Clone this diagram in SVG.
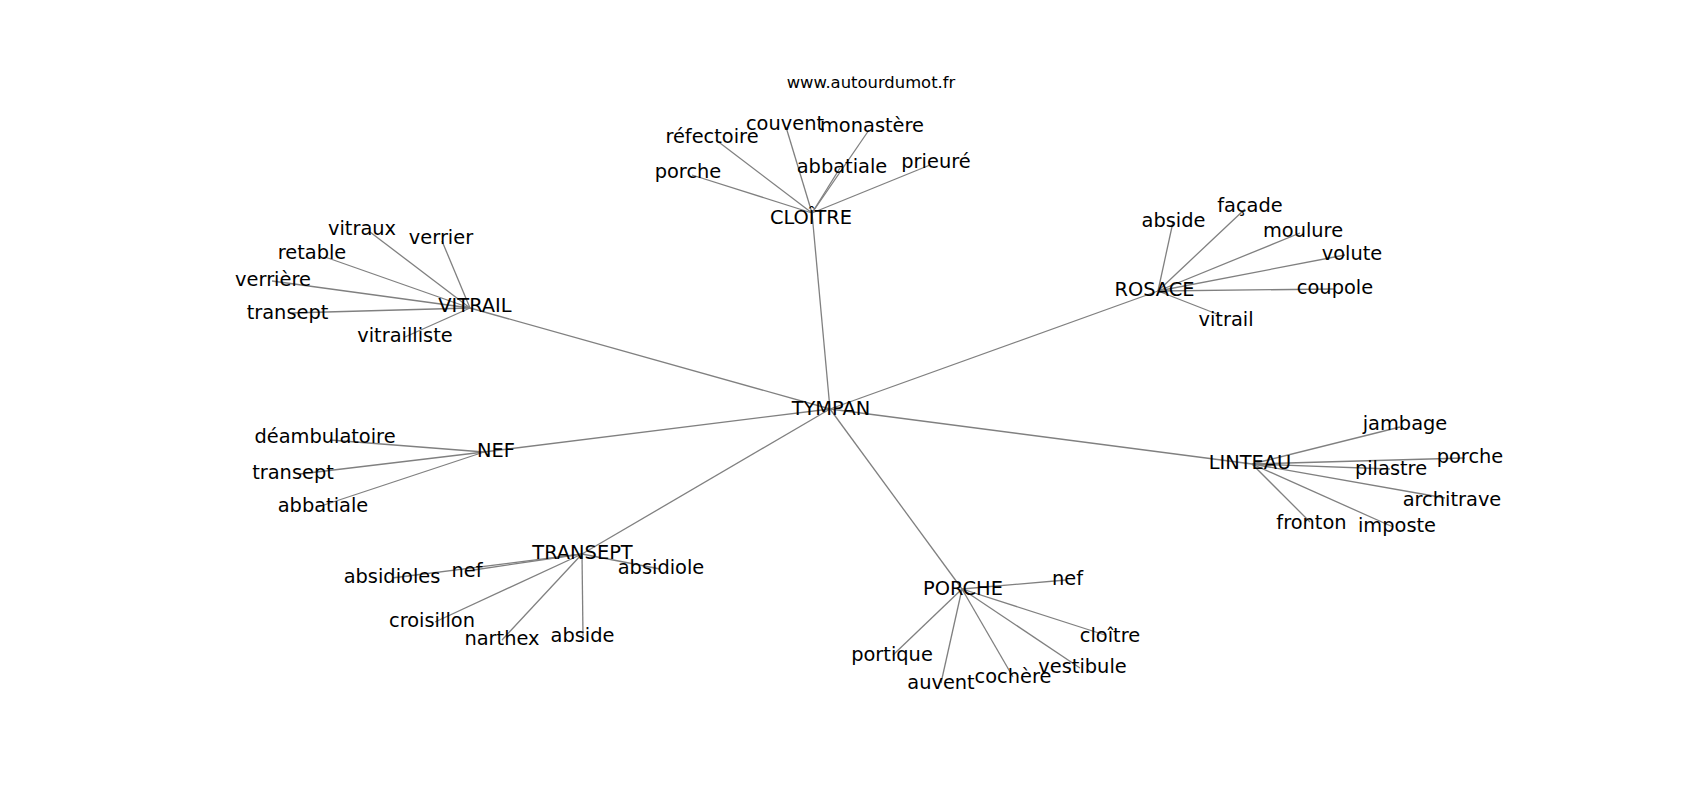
<svg xmlns="http://www.w3.org/2000/svg" width="1700" height="800" viewBox="0 0 1700 800">
<style>
.e line{stroke:#808080;stroke-width:1.3;fill:none}
text{font-family:"DejaVu Sans","Liberation Sans",sans-serif;font-size:19.4px;fill:#000;text-anchor:middle}
.t{font-size:16.4px}
</style>
<rect width="1700" height="800" fill="#fff"/>
<g id="connectors" class="e">
<line x1="830" y1="409" x2="812" y2="213"/>
<line x1="830" y1="409" x2="470" y2="308"/>
<line x1="830" y1="409" x2="1158" y2="291"/>
<line x1="830" y1="409" x2="484" y2="452"/>
<line x1="830" y1="409" x2="1252" y2="464"/>
<line x1="830" y1="409" x2="582" y2="554"/>
<line x1="830" y1="409" x2="962" y2="589"/>
<line x1="812" y1="213" x2="692" y2="175"/>
<line x1="812" y1="213" x2="716" y2="140"/>
<line x1="812" y1="213" x2="786" y2="127"/>
<line x1="812" y1="213" x2="869" y2="130"/>
<line x1="812" y1="213" x2="840" y2="168"/>
<line x1="812" y1="213" x2="930" y2="165"/>
<line x1="470" y1="308" x2="370" y2="232"/>
<line x1="470" y1="308" x2="442" y2="241"/>
<line x1="470" y1="308" x2="325" y2="257"/>
<line x1="470" y1="308" x2="272" y2="281"/>
<line x1="470" y1="308" x2="290" y2="313"/>
<line x1="470" y1="308" x2="405" y2="337"/>
<line x1="1158" y1="291" x2="1173" y2="222"/>
<line x1="1158" y1="291" x2="1245" y2="209"/>
<line x1="1158" y1="291" x2="1300" y2="233"/>
<line x1="1158" y1="291" x2="1345" y2="255"/>
<line x1="1158" y1="291" x2="1335" y2="289"/>
<line x1="1158" y1="291" x2="1222" y2="316"/>
<line x1="484" y1="452" x2="330" y2="440"/>
<line x1="484" y1="452" x2="300" y2="474"/>
<line x1="484" y1="452" x2="318" y2="507"/>
<line x1="1252" y1="464" x2="1400" y2="427"/>
<line x1="1252" y1="464" x2="1465" y2="458"/>
<line x1="1252" y1="464" x2="1390" y2="469"/>
<line x1="1252" y1="464" x2="1445" y2="498"/>
<line x1="1252" y1="464" x2="1310" y2="522"/>
<line x1="1252" y1="464" x2="1393" y2="527"/>
<line x1="582" y1="554" x2="392" y2="578"/>
<line x1="582" y1="554" x2="467" y2="571"/>
<line x1="582" y1="554" x2="660" y2="569"/>
<line x1="582" y1="554" x2="435" y2="622"/>
<line x1="582" y1="554" x2="502" y2="640"/>
<line x1="582" y1="554" x2="583" y2="636"/>
<line x1="962" y1="589" x2="1066" y2="580"/>
<line x1="962" y1="589" x2="1105" y2="635"/>
<line x1="962" y1="589" x2="893" y2="655"/>
<line x1="962" y1="589" x2="941" y2="683"/>
<line x1="962" y1="589" x2="1013" y2="677"/>
<line x1="962" y1="589" x2="1080" y2="668"/>
</g>
<text class="t" x="871" y="88">www.autourdumot.fr</text>
<g id="n-tympan"><text x="831" y="415">TYMPAN</text></g>
<g id="n-cloitre"><text x="811" y="224">CLOÎTRE</text></g>
<g id="n-vitrail"><text x="475" y="312">VITRAIL</text></g>
<g id="n-rosace"><text x="1154.5" y="296">ROSACE</text></g>
<g id="n-nef"><text x="496" y="457">NEF</text></g>
<g id="n-linteau"><text x="1250" y="469">LINTEAU</text></g>
<g id="n-transept"><text x="582.5" y="559">TRANSEPT</text></g>
<g id="n-porche"><text x="963" y="595">PORCHE</text></g>
<g id="c-porche"><text x="688" y="178">porche</text></g>
<g id="c-refectoire"><text x="712" y="143">réfectoire</text></g>
<g id="c-couvent"><text x="785" y="130">couvent</text></g>
<g id="c-monastere"><text x="872" y="132">monastère</text></g>
<g id="c-abbatiale"><text x="842" y="173">abbatiale</text></g>
<g id="c-prieure"><text x="936" y="168">prieuré</text></g>
<g id="v-vitraux"><text x="362" y="235">vitraux</text></g>
<g id="v-verrier"><text x="441" y="244">verrier</text></g>
<g id="v-retable"><text x="312" y="259">retable</text></g>
<g id="v-verriere"><text x="273" y="286">verrière</text></g>
<g id="v-transept"><text x="287.5" y="319">transept</text></g>
<g id="v-vitrailliste"><text x="405" y="342">vitrailliste</text></g>
<g id="r-abside"><text x="1173.5" y="227">abside</text></g>
<g id="r-facade"><text x="1250" y="212">façade</text></g>
<g id="r-moulure"><text x="1303" y="237">moulure</text></g>
<g id="r-volute"><text x="1352" y="260">volute</text></g>
<g id="r-coupole"><text x="1335" y="294">coupole</text></g>
<g id="r-vitrail"><text x="1226" y="326">vitrail</text></g>
<g id="nf-deambulatoire"><text x="325" y="443">déambulatoire</text></g>
<g id="nf-transept"><text x="293" y="479">transept</text></g>
<g id="nf-abbatiale"><text x="323" y="512">abbatiale</text></g>
<g id="l-jambage"><text x="1405" y="430">jambage</text></g>
<g id="l-porche"><text x="1470" y="463">porche</text></g>
<g id="l-pilastre"><text x="1391" y="475">pilastre</text></g>
<g id="l-architrave"><text x="1452" y="506">architrave</text></g>
<g id="l-fronton"><text x="1311.5" y="529">fronton</text></g>
<g id="l-imposte"><text x="1397" y="532">imposte</text></g>
<g id="t-absidioles"><text x="392" y="583">absidioles</text></g>
<g id="t-nef"><text x="467" y="577">nef</text></g>
<g id="t-absidiole"><text x="661" y="574">absidiole</text></g>
<g id="t-croisillon"><text x="432" y="627">croisillon</text></g>
<g id="t-narthex"><text x="502" y="645">narthex</text></g>
<g id="t-abside"><text x="582.5" y="642">abside</text></g>
<g id="p-nef"><text x="1067.5" y="585">nef</text></g>
<g id="p-cloitre"><text x="1110" y="642">cloître</text></g>
<g id="p-portique"><text x="892" y="661">portique</text></g>
<g id="p-auvent"><text x="941" y="689">auvent</text></g>
<g id="p-cochere"><text x="1013" y="683">cochère</text></g>
<g id="p-vestibule"><text x="1082.5" y="673">vestibule</text></g>
</svg>
